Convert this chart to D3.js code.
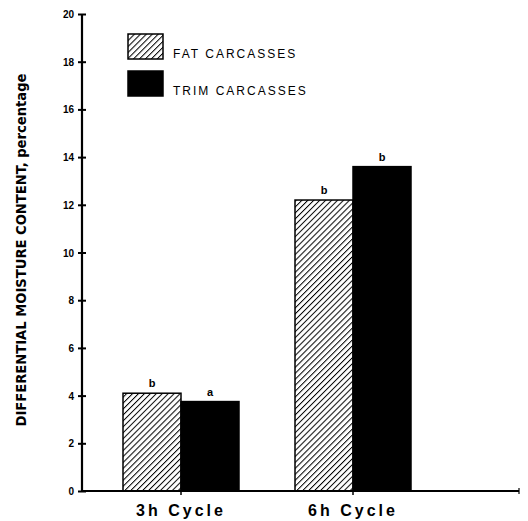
<!DOCTYPE html>
<html><head><meta charset="utf-8">
<script src="https://cdn.jsdelivr.net/npm/d3@7"></script>
<style>body{margin:0;background:#fff}svg{display:block}</style>
</head><body>
<svg id="c" width="528" height="521"></svg>
<script>
const categories = ["3h Cycle", "6h Cycle"];
const seriesNames = ["FAT CARCASSES", "TRIM CARCASSES"];
const fatValues = [4.1, 12.2];
const trimValues = [3.75, 13.6];
const fatLetters = ["b", "b"];
const trimLetters = ["a", "b"];
const yTicks = [0, 2, 4, 6, 8, 10, 12, 14, 16, 18, 20];
const yLabel = "DIFFERENTIAL MOISTURE CONTENT, percentage";

const svg = d3.select("#c");
const defs = svg.append("defs");
const pat = defs.append("pattern").attr("id","hatch").attr("patternUnits","userSpaceOnUse")
  .attr("width",4.2).attr("height",4.2).attr("patternTransform","rotate(45)");
pat.append("rect").attr("width",4.2).attr("height",4.2).attr("fill","#fff");
pat.append("line").attr("x1",0).attr("y1",0).attr("x2",0).attr("y2",4.2).attr("stroke","#000").attr("stroke-width",2);

const axX = 82, y0 = 491, y20 = 14, xEnd = 519;
const y = d3.scaleLinear().domain([0,20]).range([y0,y20]);
const x0 = d3.scaleBand().domain(categories).range([95,439]);
const x1 = d3.scaleBand().domain(seriesNames).range([-58,58]);
const fills = {"FAT CARCASSES":"url(#hatch)","TRIM CARCASSES":"#000"};

const data = categories.map((c,i)=>({cat:c, vals:[
  {s:seriesNames[0], v:fatValues[i], l:fatLetters[i]},
  {s:seriesNames[1], v:trimValues[i], l:trimLetters[i]}]}));

const g = svg.append("g").selectAll("g").data(data).join("g")
  .attr("transform", d=>`translate(${x0(d.cat)+x0.bandwidth()/2},0)`);
g.selectAll("rect").data(d=>d.vals).join("rect")
  .attr("x", d=>x1(d.s)).attr("width", x1.bandwidth())
  .attr("y", d=>y(d.v)).attr("height", d=>y0-y(d.v))
  .attr("fill", d=>fills[d.s]).attr("stroke","#000").attr("stroke-width",1.5);
g.selectAll("text").data(d=>d.vals).join("text")
  .attr("x", d=>x1(d.s)+x1.bandwidth()/2).attr("y", d=>y(d.v)-6)
  .attr("text-anchor","middle").attr("font-family","Liberation Sans, Arial, sans-serif")
  .attr("font-weight","bold").attr("font-size",11).text(d=>d.l);

// y axis
const yAxis = svg.append("g").attr("transform",`translate(${axX},0)`)
  .call(d3.axisLeft(y).tickValues(yTicks).tickSize(0).tickPadding(8));
yAxis.select(".domain").remove();
yAxis.append("line").attr("x1",0).attr("x2",0).attr("y1",y(20)).attr("y2",y(0)).attr("stroke","#000").attr("stroke-width",2.2);
yAxis.selectAll(".tick").append("line").attr("x1",-4).attr("x2",4).attr("stroke","#000").attr("stroke-width",2);
yAxis.selectAll(".tick text").attr("font-family","Liberation Sans, Arial, sans-serif")
  .attr("font-weight","bold").attr("font-size",10).attr("fill","#000").attr("dy","0.35em");

// x axis
const xAxis = svg.append("g").attr("transform",`translate(0,${y0})`)
  .call(d3.axisBottom(x0).tickSize(0));
xAxis.select(".domain").remove();
xAxis.append("line").attr("x1",axX).attr("x2",xEnd).attr("stroke","#000").attr("stroke-width",2.2);
xAxis.selectAll(".tick").append("line").attr("y1",0).attr("y2",4).attr("stroke","#000").attr("stroke-width",1.5);
xAxis.selectAll(".tick text").attr("y",25).attr("dy",null).attr("font-family","Liberation Sans, Arial, sans-serif")
  .attr("font-weight","bold").attr("font-size",16).attr("letter-spacing","3px").attr("fill","#000");
svg.append("line").attr("x1",xEnd).attr("x2",xEnd).attr("y1",y0-3).attr("y2",y0+3).attr("stroke","#000").attr("stroke-width",1.2);

// y label
svg.append("text").attr("transform",`translate(26,250) rotate(-90)`)
  .attr("text-anchor","middle").attr("font-family","Liberation Sans Narrow, DejaVu Sans Condensed, sans-serif")
  .attr("font-size",14).attr("font-weight","bold").attr("fill","#000")
  .attr("textLength",353).attr("lengthAdjust","spacingAndGlyphs").text(yLabel);

// legend
const leg = svg.append("g").selectAll("g").data(seriesNames).join("g")
  .attr("transform",(d,i)=>`translate(128,${34+i*37})`);
leg.append("rect").attr("width",35).attr("height",25).attr("fill",d=>fills[d]).attr("stroke","#000").attr("stroke-width",1.5);
leg.append("text").attr("x",45).attr("y",24).attr("font-family","Liberation Sans, Arial, sans-serif")
  .attr("font-size",12).attr("letter-spacing","2px").attr("fill","#000").text(d=>d);
</script>
</body></html>
